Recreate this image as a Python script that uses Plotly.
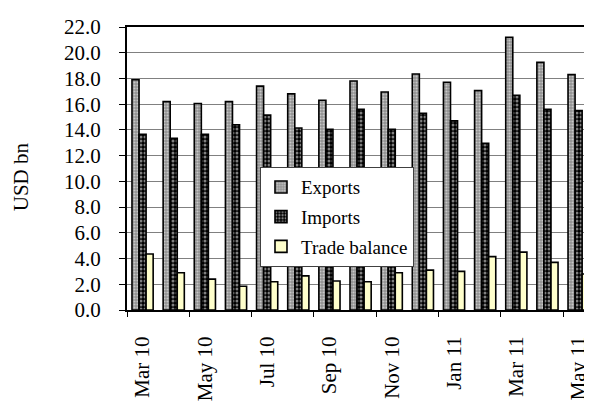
import plotly.graph_objects as go

months = ["Mar 10", "Apr 10", "May 10", "Jun 10", "Jul 10", "Aug 10", "Sep 10", "Oct 10",
          "Nov 10", "Dec 10", "Jan 11", "Feb 11", "Mar 11", "Apr 11", "May 11"]
exports = [17.9, 16.2, 16.05, 16.2, 17.4, 16.8, 16.3, 17.8, 16.95, 18.35, 17.7, 17.05, 21.2, 19.25, 18.3]
imports = [13.65, 13.35, 13.65, 14.4, 15.15, 14.15, 14.05, 15.6, 14.05, 15.3, 14.7, 12.95, 16.7, 15.6, 15.5]
balance = [4.35, 2.9, 2.4, 1.85, 2.2, 2.65, 2.25, 2.2, 2.9, 3.1, 3.0, 4.15, 4.5, 3.7, 2.8]
y_ticks = [0, 2, 4, 6, 8, 10, 12, 14, 16, 18, 20, 22]

xs = list(range(len(months)))
label_idx = xs[::2]
label_txt = months[::2]

FONT = "Liberation Serif"

fig = go.Figure()
fig.add_trace(go.Bar(
    x=xs, y=exports, name="Exports", legendgroup="a",
    marker=dict(color="#a0a0a0", line=dict(color="black", width=1.6),
                pattern=dict(shape=".", fgcolor="white", bgcolor="#909090", size=3, solidity=0.4)),
))
fig.add_trace(go.Bar(
    x=xs, y=imports, name="Imports", legendgroup="b",
    marker=dict(color="black", line=dict(color="black", width=1.6),
                pattern=dict(shape=".", fgcolor="white", bgcolor="black", size=4, solidity=0.45)),
))
fig.add_trace(go.Bar(
    x=xs, y=balance, name="Trade balance", legendgroup="c",
    marker=dict(color="#FFFFCC", line=dict(color="black", width=1.6)),
))

fig.update_layout(
    width=592, height=401,
    margin=dict(l=119, r=8, t=7, b=99),
    paper_bgcolor="white", plot_bgcolor="white",
    barmode="group", bargap=0.32, bargroupgap=0,
    font=dict(family=FONT, size=19, color="black"),
    showlegend=True,
    legend=dict(x=0.286, y=0.505, xanchor="left", yanchor="top",
                bgcolor="white", bordercolor="#404040", borderwidth=1,
                font=dict(family=FONT, size=19), tracegroupgap=2),
    xaxis=dict(range=[-0.5, 14.43], tickmode="array", tickvals=label_idx, ticktext=label_txt,
               tickangle=-90, ticks="", ticklabelstandoff=16,
               showline=True, linecolor="black", linewidth=2, mirror=True,
               showgrid=False, zeroline=False, ticklabeloverflow="allow",
               minor=dict(ticks="outside", ticklen=5, tickwidth=1, tickcolor="black",
                          tick0=-0.5, dtick=2, showgrid=False),
               tickfont=dict(family=FONT, size=21)),
    yaxis=dict(range=[0, 22], tickmode="array", tickvals=y_ticks, tickformat=".1f",
               ticks="outside", ticklen=6, tickcolor="black", ticklabelstandoff=14,
               showline=True, linecolor="black", linewidth=2, ticklabeloverflow="allow",
               showgrid=True, gridcolor="#808080", gridwidth=1, zeroline=False,
               tickfont=dict(family=FONT, size=21)),
    annotations=[dict(text="USD bn", xref="paper", yref="paper", x=-0.229, y=0.471,
                      xanchor="center", yanchor="middle",
                      textangle=-90, showarrow=False, font=dict(family=FONT, size=21))],
)

fig.write_html("out.html")
